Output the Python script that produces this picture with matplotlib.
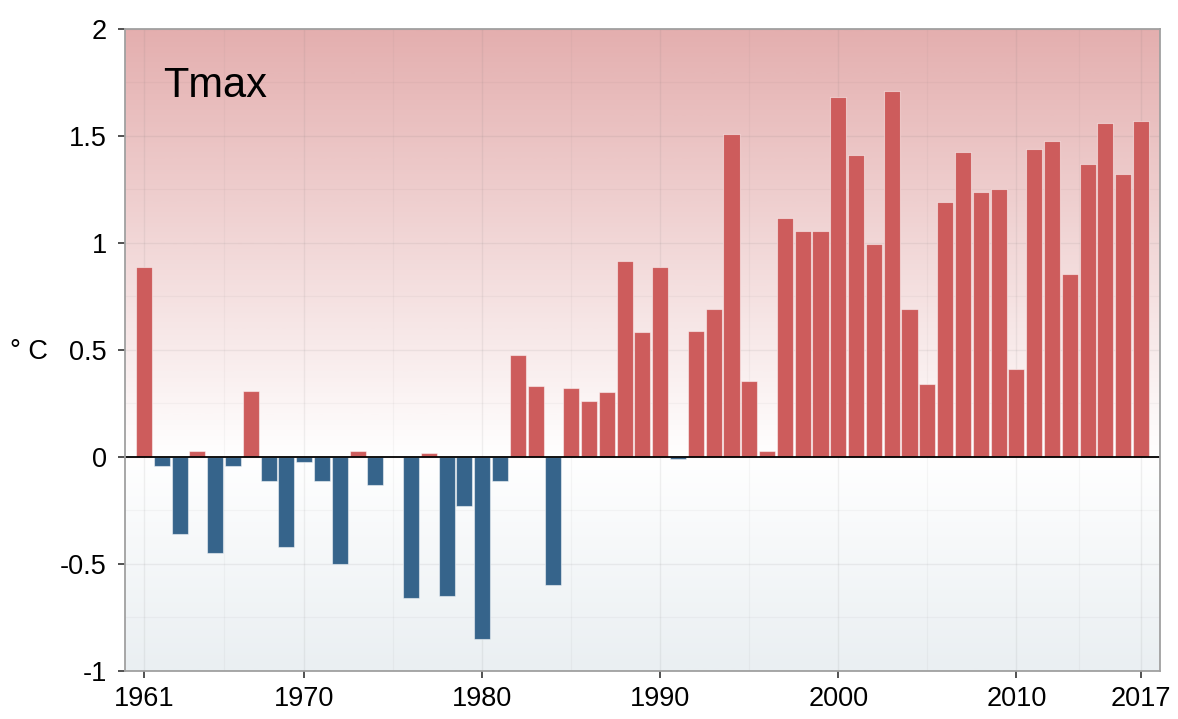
import numpy as np
import matplotlib.pyplot as plt
from matplotlib.colors import LinearSegmentedColormap
from matplotlib.ticker import FuncFormatter

plt.rcParams['font.family'] = ['Liberation Sans', 'DejaVu Sans']

# data: Tmax anomaly per year
years = list(range(1961, 2018))
tmax = [0.89, -0.04, -0.36, 0.03, -0.45, -0.04, 0.31, -0.11, -0.42, -0.025,
        -0.11, -0.50, 0.03, -0.13, 0.0, -0.66, 0.02, -0.65, -0.23, -0.85,
        -0.11, 0.475, 0.33, -0.60, 0.32, 0.26, 0.305, 0.915, 0.585, 0.89,
        -0.01, 0.59, 0.69, 1.51, 0.355, 0.03, 1.115, 1.055, 1.055, 1.68,
        1.41, 0.995, 1.71, 0.69, 0.34, 1.19, 1.425, 1.24, 1.25, 0.41,
        1.44, 1.475, 0.855, 1.37, 1.56, 1.32, 1.57]

x_breaks = [1961, 1970, 1980, 1990, 2000, 2010, 2017]
x_minor = [1965.5, 1975, 1985, 1995, 2005, 2013.5]
y_breaks = [-1, -0.5, 0, 0.5, 1, 1.5, 2]
y_minor = [-0.75, -0.25, 0.25, 0.75, 1.25, 1.75]

RED = '#cd5c5c'
BLUE = '#36648b'

fig = plt.figure(figsize=(11.78, 7.19), dpi=100)
ax = fig.add_axes([0.1061, 0.0668, 0.8786, 0.8929])

xlim = (1959.93, 2018.07)
ylim = (-1, 2)

# background gradient: blue-grey below zero, white at zero, red above
cmap = LinearSegmentedColormap.from_list(
    'bg', [(0, '#eaeff2'), (1 / 3, '#ffffff'), (1, '#e4afaf')])
grad = np.linspace(0, 1, 600).reshape(-1, 1)
ax.imshow(grad, cmap=cmap, origin='lower', aspect='auto',
          extent=[xlim[0], xlim[1], ylim[0], ylim[1]], zorder=0)

# grid
for v in x_breaks:
    ax.axvline(v, color=(0.45, 0.45, 0.45, 0.10), lw=1.0, zorder=1)
for v in x_minor:
    ax.axvline(v, color=(0.45, 0.45, 0.45, 0.06), lw=0.8, zorder=1)
for v in y_breaks:
    ax.axhline(v, color=(0.45, 0.45, 0.45, 0.10), lw=1.0, zorder=1)
for v in y_minor:
    ax.axhline(v, color=(0.45, 0.45, 0.45, 0.06), lw=0.8, zorder=1)

colors = [RED if t > 0 else BLUE for t in tmax]
ax.bar(years, tmax, width=0.9, color=colors, edgecolor=(1, 1, 1, 0.5),
       linewidth=0.8, zorder=2)
ax.axhline(0, color='black', lw=1.3, zorder=3)

ax.set_xlim(*xlim)
ax.set_ylim(*ylim)
ax.set_xticks(x_breaks)
ax.set_yticks(y_breaks)
ax.yaxis.set_major_formatter(FuncFormatter(lambda v, p: f'{v:g}'))
ax.tick_params(axis='both', labelsize=19.5, color='#333333', length=5, width=1.2)
ax.tick_params(axis='x', pad=6)
ax.tick_params(axis='y', pad=8)

for s in ax.spines.values():
    s.set_color('#a0a0a0')
    s.set_linewidth(1.3)
    s.set_zorder(4)

ax.text(0.0367, 0.894, 'Tmax', transform=ax.transAxes, fontsize=30,
        va='baseline', ha='left')
fig.text(29 / 1178, 1 - 352 / 719, '° C', fontsize=19.5, ha='center', va='center')

fig.savefig('out.png', dpi=100)
